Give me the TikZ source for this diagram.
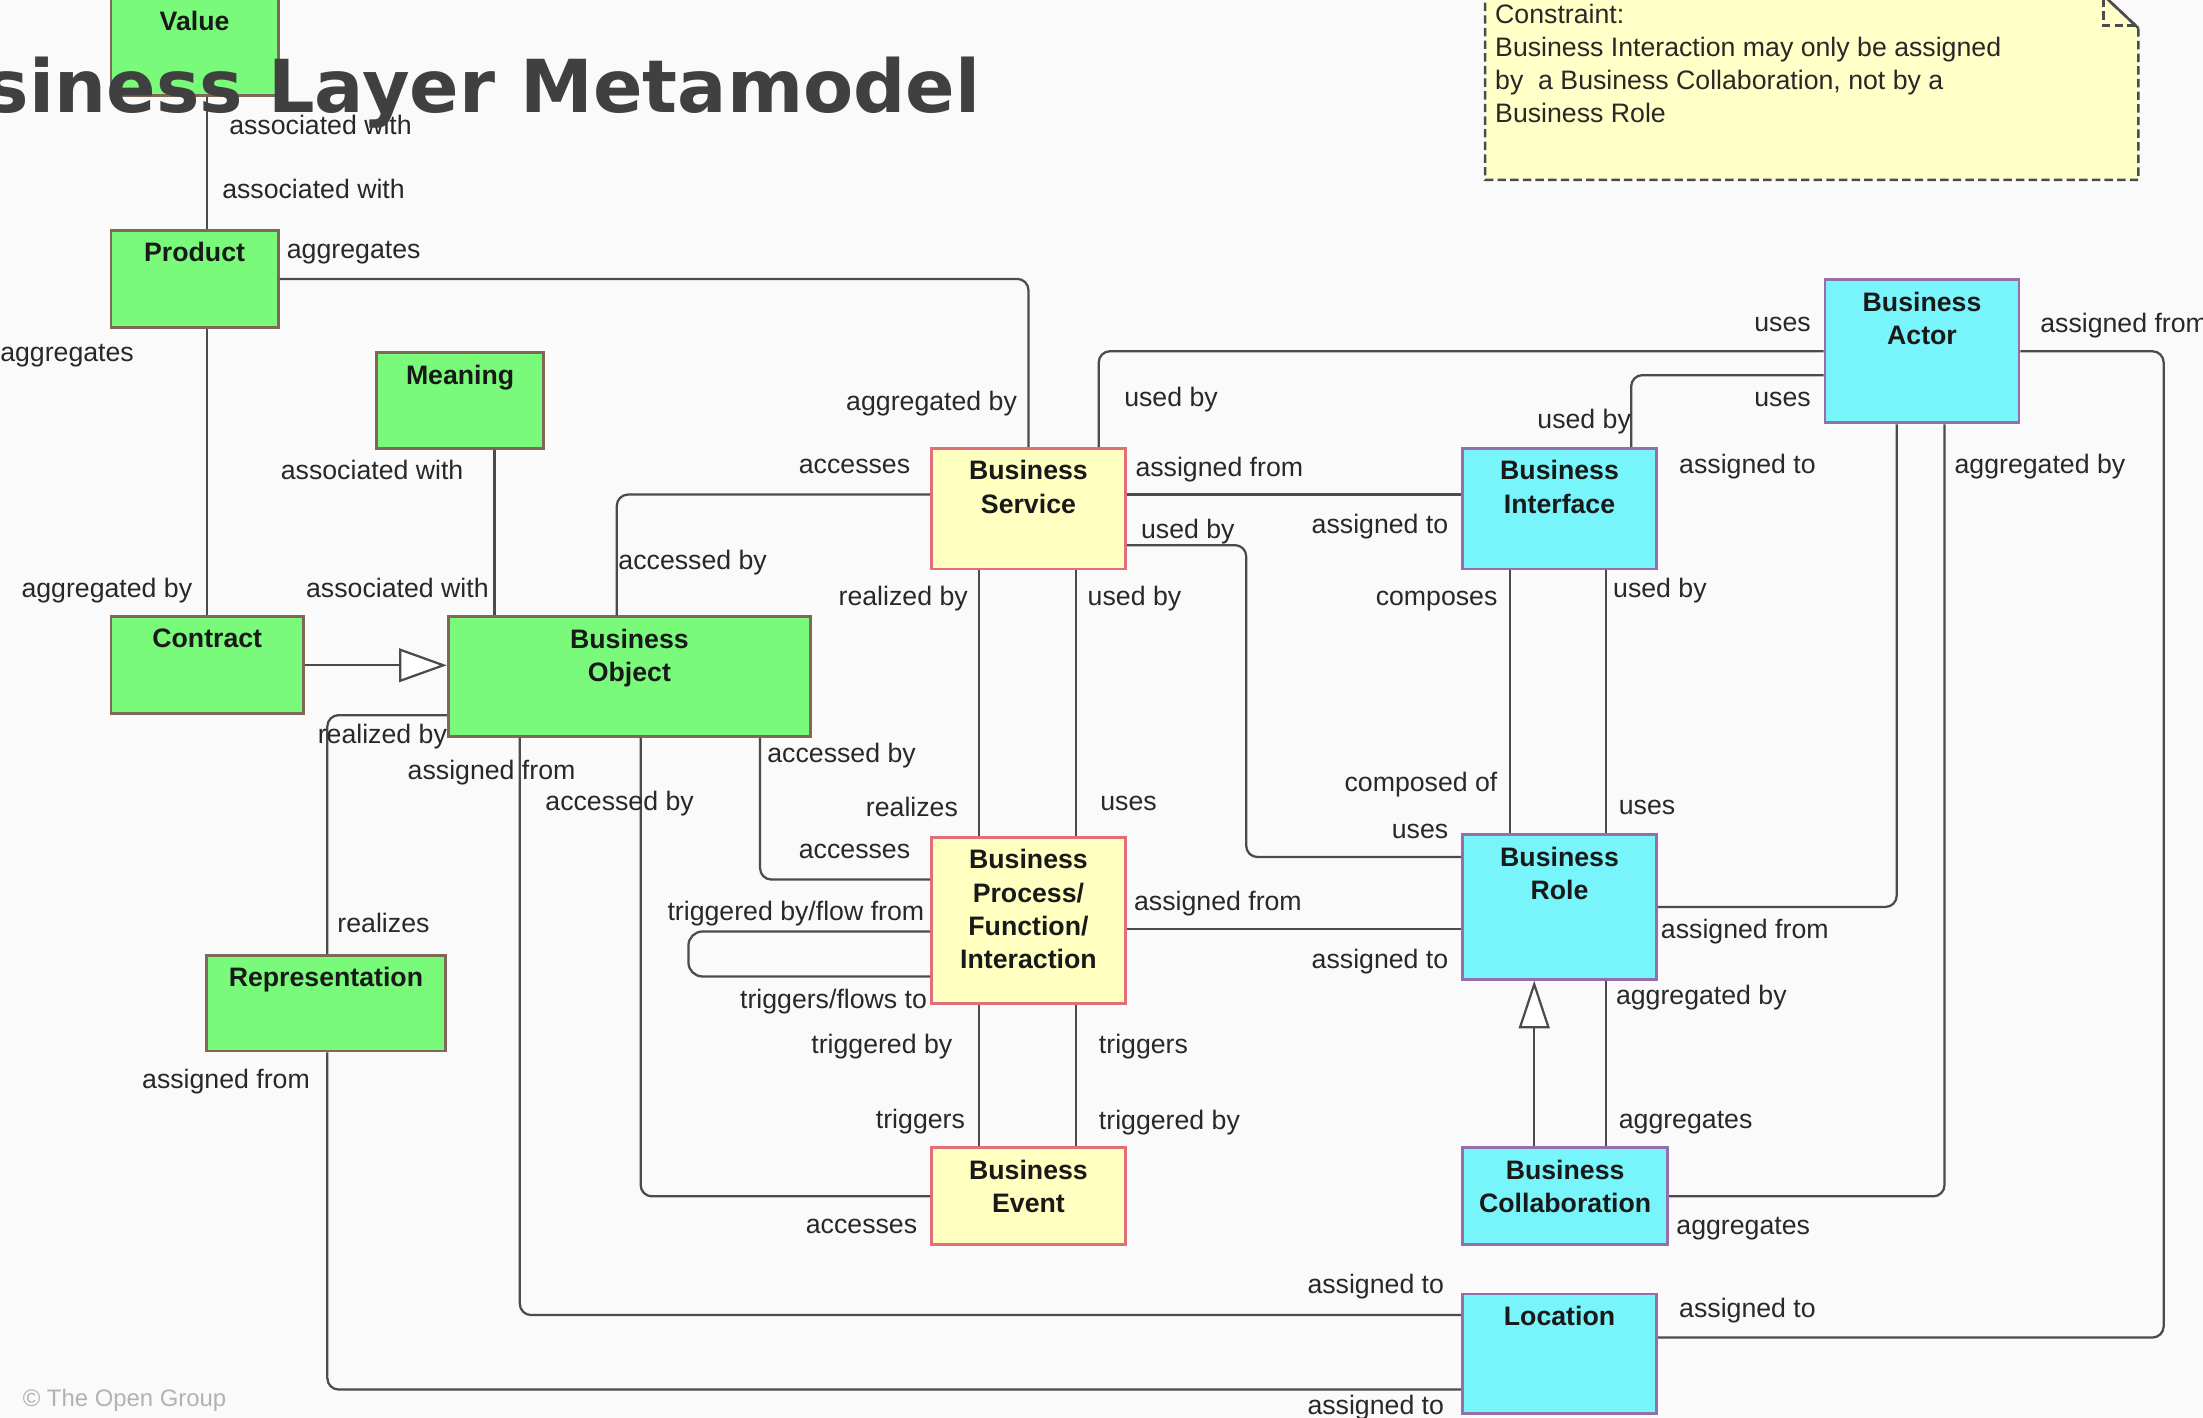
\documentclass[tikz,border=0pt]{standalone}
\usepackage{fontspec}
\setmainfont{Liberation Sans}
\newfontfamily\titlefont{DejaVu Sans}
\usetikzlibrary{arrows.meta}

\definecolor{bg}{RGB}{250,250,250}
\definecolor{gfill}{RGB}{122,250,122}
\definecolor{gdraw}{RGB}{125,105,85}
\definecolor{yfill}{RGB}{255,255,192}
\definecolor{ydraw}{RGB}{225,110,120}
\definecolor{cfill}{RGB}{120,245,250}
\definecolor{cdraw}{RGB}{150,110,170}
\definecolor{linec}{RGB}{75,75,75}
\definecolor{lblc}{RGB}{40,40,40}
\definecolor{notefill}{RGB}{255,255,200}
\definecolor{titlec}{RGB}{64,64,64}

\begin{document}
\begin{tikzpicture}[x=1pt,y=-1pt,
  box/.style={draw, line width=2pt, anchor=north west, inner sep=0pt},
  gbox/.style={box, fill=gfill, draw=gdraw},
  ybox/.style={box, fill=yfill, draw=ydraw},
  cbox/.style={box, fill=cfill, draw=cdraw},
  btext/.style={font=\fontsize{19}{23.7}\selectfont\bfseries, align=center,
    inner sep=0pt, anchor=north, yshift=-9.5pt, text=black!90},
  conn/.style={draw=linec, line width=1.6pt, rounded corners=8pt},
  gen/.style={conn, -{Triangle[open, length=34pt, width=24pt, fill=white]}},
  notedash/.style={draw=linec, line width=1.8pt, dash pattern=on 6pt off 3pt},
  lbl/.style={font=\fontsize{19}{23}\selectfont, text=lblc, inner sep=0pt,
    text height=17pt, text depth=3pt},
  lw/.style={lbl, anchor=west},
  le/.style={lbl, anchor=east}
]
% canvas
\useasboundingbox (0,0) rectangle (1568,1009);
\clip (0,0) rectangle (1568,1009);
\fill[bg] (0,0) rectangle (1568,1009);

% constraint note
\path[fill=notefill, notedash]
  (1057,-10) -- (1490,-10) -- (1522,20) -- (1522,128) -- (1057,128) -- cycle;
\draw[notedash] (1497,-10) -- (1497,18) -- (1522,18);
\draw[linec, line width=1.8pt] (1490,-10) -- (1522,20);
\node[anchor=north west, inner sep=0pt, align=left, text=lblc,
  font=\fontsize{19}{23.5}\selectfont] (note) at (1064,3)
  {Constraint:\\Business Interaction may only be assigned\\by~ a Business Collaboration, not by a\\Business Role};

% elements
\node[gbox, minimum width=119pt, minimum height=69pt, label={[btext]north:Value}] (value) at (78,-2) {};
\node[gbox, minimum width=119pt, minimum height=69pt, label={[btext]north:Product}] (product) at (78,163) {};
\node[gbox, minimum width=119pt, minimum height=68pt, label={[btext]north:Meaning}] (meaning) at (267,250) {};
\node[gbox, minimum width=137pt, minimum height=69pt, label={[btext]north:Contract}] (contract) at (78,438) {};
\node[gbox, minimum width=258pt, minimum height=85pt, label={[btext]north:Business\\Object}] (object) at (318,438) {};
\node[gbox, minimum width=170pt, minimum height=68pt, label={[btext]north:Representation}] (repr) at (146,679) {};

\node[ybox, minimum width=138pt, minimum height=86pt, label={[btext]north:Business\\Service}] (service) at (662,318) {};
\node[ybox, minimum width=138pt, minimum height=118pt, label={[btext]north:Business\\Process/\\Function/\\Interaction}] (process) at (662,595) {};
\node[ybox, minimum width=138pt, minimum height=69pt, label={[btext]north:Business\\Event}] (event) at (662,816) {};

\node[cbox, minimum width=138pt, minimum height=86pt, label={[btext]north:Business\\Interface}] (interface) at (1040,318) {};
\node[cbox, minimum width=138pt, minimum height=102pt, label={[btext]north:Business\\Actor}] (actor) at (1298,198) {};
\node[cbox, minimum width=138pt, minimum height=103pt, label={[btext]north:Business\\Role}] (role) at (1040,593) {};
\node[cbox, minimum width=146pt, minimum height=69pt, label={[btext]north:Business\\Collaboration}] (collab) at (1040,816) {};
\node[cbox, minimum width=138pt, minimum height=85pt, label={[btext]north:Location}] (location) at (1040,920) {};

% helper points on element borders
\coordinate (pr) at ([yshift=-66pt]process.north east);
\coordinate (loopA) at ([yshift=-68pt]process.north west);
\coordinate (loopB) at ([yshift=-100pt]process.north west);

% relations
\draw[conn] (value.south -| contract.north) -- (product.north -| contract.north);
\draw[conn] (product.south -| contract.north) -- (contract.north);
\draw[conn] (product.east) -| (service.north);
\draw[conn] ([xshift=85pt]meaning.south west) -- ([xshift=34pt]object.north west);
\draw[gen] (contract.east) -- (object.west |- contract.east);
\draw[conn] ([xshift=121pt]object.north west) |- ([yshift=-34pt]service.north west);
\draw[conn] ([yshift=16pt]object.south west) -| ([xshift=87pt]repr.north west);
\draw[conn] ([xshift=223pt]object.south west) |- ([yshift=-31pt]process.north west);
\draw[conn] ([xshift=138pt]object.south west) |- (event.west);
\draw[conn] ([xshift=52pt]object.south west) |- ([yshift=-16pt]location.north west);
\draw[conn] ([xshift=87pt]repr.south west) |- ([yshift=18pt]location.south west);

\draw[conn] ([xshift=35pt]service.south west) -- ([xshift=35pt]process.north west);
\draw[conn] ([xshift=104pt]service.south west) -- ([xshift=104pt]process.north west);
\draw[conn] ([xshift=120pt]service.north west) |- (actor.west);
\draw[conn] ([yshift=-34pt]service.north east) -- ([yshift=-34pt]interface.north west);
\draw[conn] ([yshift=18pt]service.south east) -- ++(85,0) |- ([yshift=-17pt]role.north west);

\draw[conn] ([xshift=121pt]interface.north west) |- ([yshift=-69pt]actor.north west);
\draw[conn] ([xshift=35pt]interface.south west) -- ([xshift=35pt]role.north west);
\draw[conn] ([xshift=103pt]interface.south west) -- ([xshift=103pt]role.north west);

\draw[conn] (pr) -- (pr -| role.west);
\draw[conn, rounded corners=10pt] (loopA) -- ++(-172,0) |- (loopB);
\draw[conn] ([xshift=35pt]process.south west) -- ([xshift=35pt]event.north west);
\draw[conn] ([xshift=104pt]process.south west) -- ([xshift=104pt]event.north west);

\draw[conn] (role.east) -| ([xshift=52pt]actor.south west);
\draw[conn] ([xshift=86pt]actor.south west) |- (collab.east);
\draw[gen, -{Triangle[open, length=34pt, width=22pt, fill=white]}]
  ([xshift=52pt]collab.north west) -- ([xshift=52pt]role.south west);
\draw[conn] ([xshift=103pt]collab.north west) -- ([xshift=103pt]role.south west);
\draw[conn] (actor.east) -- ++(102,0) |- ([yshift=-32pt]location.north east);

% relation end labels
\node[lw] (t1) at (163,89) {associated with};
\node[lw] (t2) at (158,134) {associated with};
\node[lw] (t3) at (204,177) {aggregates};
\node[lw] (t4) at (0,250) {aggregates};
\node[le] (t5) at (724,285) {aggregated by};
\node[le] (t6) at (330,334) {associated with};
\node[le] (t7) at (137,418) {aggregated by};
\node[le] (t8) at (348,418) {associated with};
\node[le] (t9) at (648,330) {accesses};
\node[lw] (t10) at (440,398) {accessed by};
\node[lw] (t11) at (226,522) {realized by};
\node[lw] (t12) at (240,657) {realizes};
\node[lw] (t13) at (290,548) {assigned from};
\node[lw] (t14) at (388,570) {accessed by};
\node[lw] (t15) at (546,536) {accessed by};
\node[le] (t16) at (648,604) {accesses};
\node[le] (t17) at (682,574) {realizes};
\node[le] (t18) at (689,424) {realized by};
\node[lw] (t19) at (774,424) {used by};
\node[lw] (t20) at (783,570) {uses};
\node[lw] (t21) at (800,282) {used by};
\node[lw] (t22) at (808,332) {assigned from};
\node[lw] (t23) at (812,376) {used by};
\node[le] (t24) at (1031,373) {assigned to};
\node[le] (t25) at (1289,229) {uses};
\node[lw] (t26) at (1452,230) {assigned from};
\node[le] (t27) at (1161,298) {used by};
\node[le] (t28) at (1289,282) {uses};
\node[lw] (t29) at (1195,330) {assigned to};
\node[lw] (t30) at (1391,330) {aggregated by};
\node[le] (t31) at (1066,424) {composes};
\node[lw] (t32) at (1148,418) {used by};
\node[le] (t33) at (1066,556) {composed of};
\node[le] (t34) at (1031,590) {uses};
\node[lw] (t35) at (1152,573) {uses};
\node[le] (t36) at (658,648) {triggered by/flow from};
\node[le] (t37) at (660,711) {triggers/flows to};
\node[lw] (t38) at (807,641) {assigned from};
\node[le] (t39) at (1031,682) {assigned to};
\node[lw] (t40) at (1182,661) {assigned from};
\node[lw] (t41) at (1150,708) {aggregated by};
\node[le] (t42) at (678,743) {triggered by};
\node[lw] (t43) at (782,743) {triggers};
\node[le] (t44) at (687,796) {triggers};
\node[lw] (t45) at (782,797) {triggered by};
\node[lw] (t46) at (1152,796) {aggregates};
\node[le] (t47) at (653,871) {accesses};
\node[lw] (t48) at (1193,872) {aggregates};
\node[le] (t49) at (1028,914) {assigned to};
\node[lw] (t50) at (1195,931) {assigned to};
\node[lw] (t51) at (101,768) {assigned from};
\node[le] (t52) at (1028,1000) {assigned to};

% heading and credit
\node[anchor=base east, inner sep=0pt, text=titlec,
  font=\titlefont\bfseries\fontsize{52}{60}\selectfont] (title) at (698,80)
  {Business Layer Metamodel};
\node[anchor=west, inner sep=0pt, text=black!30,
  font=\fontsize{17}{20}\selectfont] (credit) at (16,997) {© The Open Group};
\end{tikzpicture}
\end{document}
